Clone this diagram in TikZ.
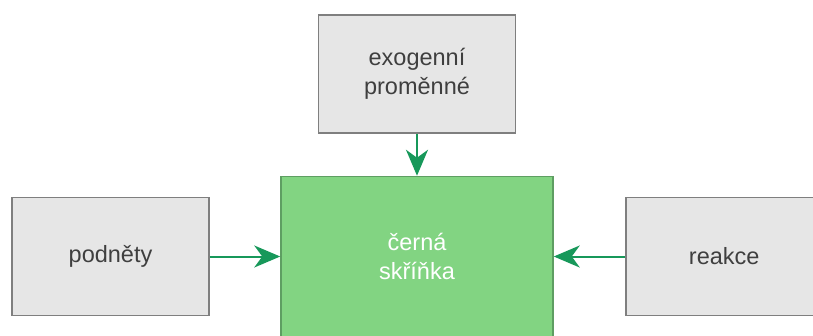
\documentclass[tikz,border=0pt]{standalone}
\usepackage{fontspec}
\setmainfont{Liberation Sans}
\usetikzlibrary{arrows.meta}
\definecolor{boxgray}{HTML}{E6E6E6}
\definecolor{boxline}{HTML}{7F7F7F}
\definecolor{greenfill}{HTML}{82D482}
\definecolor{greenline}{HTML}{5E9E62}
\definecolor{arrowgreen}{HTML}{17985A}
\definecolor{txtgray}{HTML}{3F3F3F}
\begin{document}
\begin{tikzpicture}[x=1pt,y=-1pt,
  graybox/.style={draw=boxline,line width=1.5pt,fill=boxgray,text=txtgray,
    minimum width=197pt,minimum height=118pt,inner sep=0pt,align=center,
    font=\fontsize{23.5}{29}\selectfont},
  greenbox/.style={draw=greenline,line width=1.5pt,fill=greenfill,text=white,
    minimum width=272pt,minimum height=160pt,inner sep=0pt,align=center,
    font=\fontsize{23.5}{29}\selectfont},
  conn/.style={draw=arrowgreen,line width=2pt,
    -{Stealth[length=26pt,width=22pt,inset=8pt]}}]
\useasboundingbox (0,0) rectangle (813,335);
\begin{scope}
\clip (0,0) rectangle (813,335);
\node[graybox] (exo) at (417,74) {exogenní\\proměnné};
\node[greenbox] (black) at (417,256.5) {černá\\skříňka};
\node[graybox] (pod) at (110.5,256.5) {podněty};
\node[graybox, minimum width=210pt, anchor=west] (rea) at (625,256.5) {\hspace*{-13pt}reakce};
\draw[conn] (exo.south) -- (black.north);
\draw[conn] (pod.east) -- (black.west);
\draw[conn] (rea.west) -- (black.east);
\end{scope}
\end{tikzpicture}
\end{document}
